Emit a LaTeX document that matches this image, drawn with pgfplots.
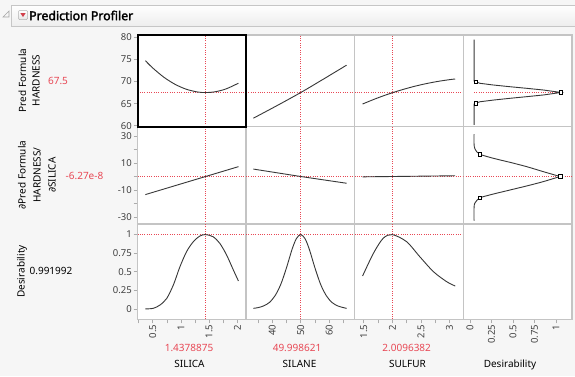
\documentclass[border=0pt]{standalone}
\usepackage{pgfplots}
\pgfplotsset{compat=1.18}
\usepackage{fontspec}
\setmainfont{Noto Sans}[AutoFakeBold=2.2]
\newfontfamily\djv{DejaVu Sans}
\definecolor{jred}{RGB}{232,72,85}
\definecolor{pgray}{RGB}{196,196,196}
\definecolor{tgray}{RGB}{64,64,64}
\definecolor{bg}{RGB}{246,246,246}
\definecolor{crv}{RGB}{55,55,55}
\pgfplotsset{
  panel/.style={scale only axis, anchor=north west,
    axis background/.style={fill=white},
    axis line style={draw=pgray, line width=1.2pt},
    xtick=\empty, ytick=\empty, minor xtick={}, minor ytick={},
    tick align=outside, major tick length=4pt, minor tick length=4pt,
    tick style={draw=gray!65, line width=0.6pt},
    ticklabel style={font=\fontsize{9.5}{10}\selectfont, text=tgray},
    yticklabel style={inner sep=1.5pt},
    xticklabel style={rotate=90, anchor=east, inner sep=1.5pt},
    ytick pos=left, xtick pos=bottom},
  r1/.style={ymin=59.82,ymax=80.52,height=91.5pt},
  r2/.style={ymin=-35.19,ymax=37.04,height=97.5pt},
  r3/.style={ymin=-0.133,ymax=1.133,height=95.3pt},
  c1/.style={xmin=0.2305,xmax=2.154,width=108.5pt},
  c2/.style={xmin=30.81,xmax=68.88,width=108.5pt},
  c3/.style={xmin=1.339,xmax=3.241,width=108.8pt},
  c4/.style={xmin=-0.078,xmax=1.186,width=108.7pt},
  crv/.style={draw=crv, line width=0.9pt, no marks},
  reddot/.style={draw=jred, line width=0.8pt, dash pattern=on 1pt off 1.3pt, no marks},
  sq/.style={only marks, mark=square*, mark size=1.8pt, mark options={fill=white, draw=black, line width=0.6pt}},
}
\begin{document}
\begin{tikzpicture}
\useasboundingbox (0,0) rectangle (575pt,-376pt);
\fill[bg] (0,0) rectangle (575pt,-376pt);
% header
\shade[top color=white, bottom color=gray!14] (11.5pt,-5pt) rectangle (575pt,-26pt);
\draw[gray!45, line width=0.6pt] (11.5pt,-5pt) -- (575pt,-5pt) (11.5pt,-5pt) -- (11.5pt,-26pt) -- (575pt,-26pt);
\draw[gray!70, line width=0.6pt] (3pt,-17pt) -- (9pt,-17pt) -- (9pt,-11pt) -- cycle;
\shade[top color=white, bottom color=gray!20, draw=gray!60, rounded corners=1pt, line width=0.5pt] (18.5pt,-10.5pt) rectangle (27.5pt,-19.5pt);
\fill[jred!90!black] (20.3pt,-13pt) -- (25.7pt,-13pt) -- (23pt,-17pt) -- cycle;
\node[anchor=west, inner sep=0pt, font=\fontsize{12.3}{14}\selectfont\bfseries] at (29pt,-15.5pt) {Prediction Profiler};

% ---------------- Row 1: Pred Formula HARDNESS
\begin{axis}[panel, r1, c1, at={(137.5pt,-35pt)},
  ytick={60,65,70,75,80}, yticklabels={60,65,70,75,80}]
\addplot[reddot] coordinates {(1.4379,59.82) (1.4379,80.52)};
\addplot[reddot] coordinates {(0.2305,67.5) (2.154,67.5)};
\addplot[crv, smooth] coordinates {(0.37,74.71) (0.5,73.07) (0.7,70.95) (0.9,69.34) (1.1,68.23) (1.3,67.62) (1.44,67.5) (1.6,67.66) (1.8,68.32) (2.02,69.62)};
\end{axis}
\begin{axis}[panel, r1, c2, at={(246pt,-35pt)}]
\addplot[reddot] coordinates {(49.9986,59.82) (49.9986,80.52)};
\addplot[reddot] coordinates {(30.81,67.5) (68.88,67.5)};
\addplot[crv, smooth] coordinates {(33.4,61.7) (41.7,64.55) (50,67.5) (58,70.55) (66.1,73.7)};
\end{axis}
\begin{axis}[panel, r1, c3, at={(354.5pt,-35pt)}]
\addplot[reddot] coordinates {(2.0096,59.82) (2.0096,80.52)};
\addplot[reddot] coordinates {(1.339,67.5) (3.241,67.5)};
\addplot[crv, smooth] coordinates {(1.48,64.91) (1.7,66.07) (1.9,67.02) (2.01,67.5) (2.2,68.25) (2.4,68.95) (2.6,69.54) (2.8,70.03) (3.0,70.42) (3.1,70.57)};
\end{axis}
\begin{axis}[panel, r1, c4, at={(463.3pt,-35pt)}]
\addplot[reddot] coordinates {(0.047,67.5) (1.058,67.5)};
\addplot[crv] coordinates {(0.047,79.5) (0.047,70.1) (0.066,69.95) (0.116,69.59) (0.271,69.21) (0.465,68.82) (0.659,68.46) (0.852,68.08) (1.058,67.52) (0.852,66.95) (0.659,66.57) (0.465,66.2) (0.271,65.8) (0.116,65.42) (0.066,65.1) (0.047,64.9) (0.047,60.2)};
\addplot[sq] coordinates {(0.066,69.95) (1.058,67.52) (0.066,65.1)};
\end{axis}

% ---------------- Row 2: derivative
\begin{axis}[panel, r2, c1, at={(137.5pt,-126.5pt)},
  ytick={-30,-10,10,30}, yticklabels={-30,-10,10,30}, minor ytick={-20,0,20}]
\addplot[reddot] coordinates {(1.4379,-35.19) (1.4379,37.04)};
\addplot[reddot] coordinates {(0.2305,0) (2.154,0)};
\addplot[crv] coordinates {(0.37,-13.4) (1.4379,0) (2.02,7.3)};
\end{axis}
\begin{axis}[panel, r2, c2, at={(246pt,-126.5pt)}]
\addplot[reddot] coordinates {(49.9986,-35.19) (49.9986,37.04)};
\addplot[reddot] coordinates {(30.81,0) (68.88,0)};
\addplot[crv] coordinates {(33.4,5.5) (50,0) (66.1,-5.0)};
\end{axis}
\begin{axis}[panel, r2, c3, at={(354.5pt,-126.5pt)}]
\addplot[reddot] coordinates {(2.0096,-35.19) (2.0096,37.04)};
\addplot[reddot] coordinates {(1.339,0) (3.241,0)};
\addplot[crv] coordinates {(1.48,-0.25) (2.01,0) (3.1,0.55)};
\end{axis}
\begin{axis}[panel, r2, c4, at={(463.3pt,-126.5pt)}]
\addplot[reddot] coordinates {(-0.078,0) (1.186,0)};
\addplot[crv, smooth] coordinates {(0.047,31.3) (0.047,24) (0.055,20.9) (0.08,18.2) (0.116,16.4) (0.271,13.5) (0.465,10.5) (0.659,7.3) (0.852,3.6) (1.047,0)};
\addplot[crv, smooth] coordinates {(1.047,0) (0.852,-3.8) (0.659,-7.0) (0.465,-10.0) (0.271,-13.0) (0.116,-15.7) (0.08,-17.6) (0.055,-19.9) (0.047,-23) (0.047,-32.7)};
\addplot[sq] coordinates {(0.116,16.4) (1.047,0) (0.116,-15.7)};
\end{axis}

% ---------------- Row 3: Desirability
\begin{axis}[panel, r3, c1, at={(137.5pt,-224pt)},
  ytick={0,0.25,0.5,0.75,1}, yticklabels={0,0.25,0.5,0.75,1},
  xtick={0.5,1,1.5,2}, xticklabels={0.5,1,1.5,2}, minor xtick={0.25,0.75,1.25,1.75}]
\addplot[reddot] coordinates {(1.4379,-0.133) (1.4379,1.133)};
\addplot[reddot] coordinates {(0.2305,0.992) (2.154,0.992)};
\addplot[crv, smooth] coordinates {(0.37,0.005) (0.51,0.013) (0.63,0.057) (0.75,0.146) (0.87,0.33) (0.98,0.56) (1.10,0.765) (1.22,0.898) (1.34,0.975) (1.44,0.992) (1.57,0.964) (1.69,0.876) (1.81,0.721) (1.93,0.522) (2.02,0.376)};
\end{axis}
\begin{axis}[panel, r3, c2, at={(246pt,-224pt)},
  xtick={40,50,60}, xticklabels={40,50,60}, minor xtick={35,45,55,65}]
\addplot[reddot] coordinates {(49.9986,-0.133) (49.9986,1.133)};
\addplot[reddot] coordinates {(30.81,0.992) (68.88,0.992)};
\addplot[crv, smooth] coordinates {(33.4,0.013) (35,0.022) (37,0.045) (39,0.09) (41,0.18) (43,0.33) (45,0.55) (47,0.80) (48.5,0.94) (50,0.992) (51.5,0.94) (53,0.80) (55,0.55) (57,0.33) (59,0.18) (61,0.09) (63,0.045) (65,0.022) (66.1,0.013)};
\end{axis}
\begin{axis}[panel, r3, c3, at={(354.5pt,-224pt)},
  xtick={1.5,2,2.5,3}, xticklabels={1.5,2,2.5,3}, minor xtick={1.75,2.25,2.75}]
\addplot[reddot] coordinates {(2.0096,-0.133) (2.0096,1.133)};
\addplot[reddot] coordinates {(1.339,0.992) (3.241,0.992)};
\addplot[crv, smooth] coordinates {(1.48,0.442) (1.67,0.744) (1.84,0.943) (2.0,0.992) (2.25,0.898) (2.48,0.699) (2.72,0.499) (2.95,0.367) (3.1,0.309)};
\end{axis}
\begin{axis}[panel, r3, c4, at={(463.3pt,-224pt)},
  xtick={0,0.25,0.5,0.75,1}, xticklabels={0,0.25,0.5,0.75,1}]
\addplot[draw=none, no marks] coordinates {(0,0)};
\end{axis}

% selected frame
\draw[black, line width=2pt] (137.5pt,-35pt) rectangle (246pt,-126.5pt);

% left labels
\node[rotate=90, align=center, font=\fontsize{10}{13.5}\selectfont] at (29pt,-80.5pt) {Pred Formula\\HARDNESS};
\node[font=\fontsize{10}{12}\selectfont, text=jred] at (58pt,-81pt) {67.5};
\node[rotate=90, align=center, font=\fontsize{10}{15}\selectfont] at (37pt,-175pt) {{\djv ∂}Pred Formula\\HARDNESS/\\{\djv ∂}SILICA};
\node[font=\fontsize{10}{12}\selectfont, text=jred] at (84.5pt,-175.7pt) {-6.27e-8};
\node[rotate=90, font=\fontsize{10}{12}\selectfont] at (22pt,-271.5pt) {Desirability};
\node[font=\fontsize{10}{12}\selectfont] at (51pt,-270.7pt) {0.991992};

% bottom labels
\node[font=\fontsize{10}{12}\selectfont, text=jred] at (189pt,-347.5pt) {1.4378875};
\node[font=\fontsize{10}{12}\selectfont, text=jred] at (297pt,-347.5pt) {49.998621};
\node[font=\fontsize{10}{12}\selectfont, text=jred] at (406.7pt,-347.5pt) {2.0096382};
\node[font=\fontsize{10}{12}\selectfont] at (189.5pt,-364.3pt) {SILICA};
\node[font=\fontsize{10}{12}\selectfont] at (299.5pt,-364.3pt) {SILANE};
\node[font=\fontsize{10}{12}\selectfont] at (407.5pt,-364.3pt) {SULFUR};
\node[font=\fontsize{10}{12}\selectfont] at (510pt,-365pt) {Desirability};
\end{tikzpicture}
\end{document}
